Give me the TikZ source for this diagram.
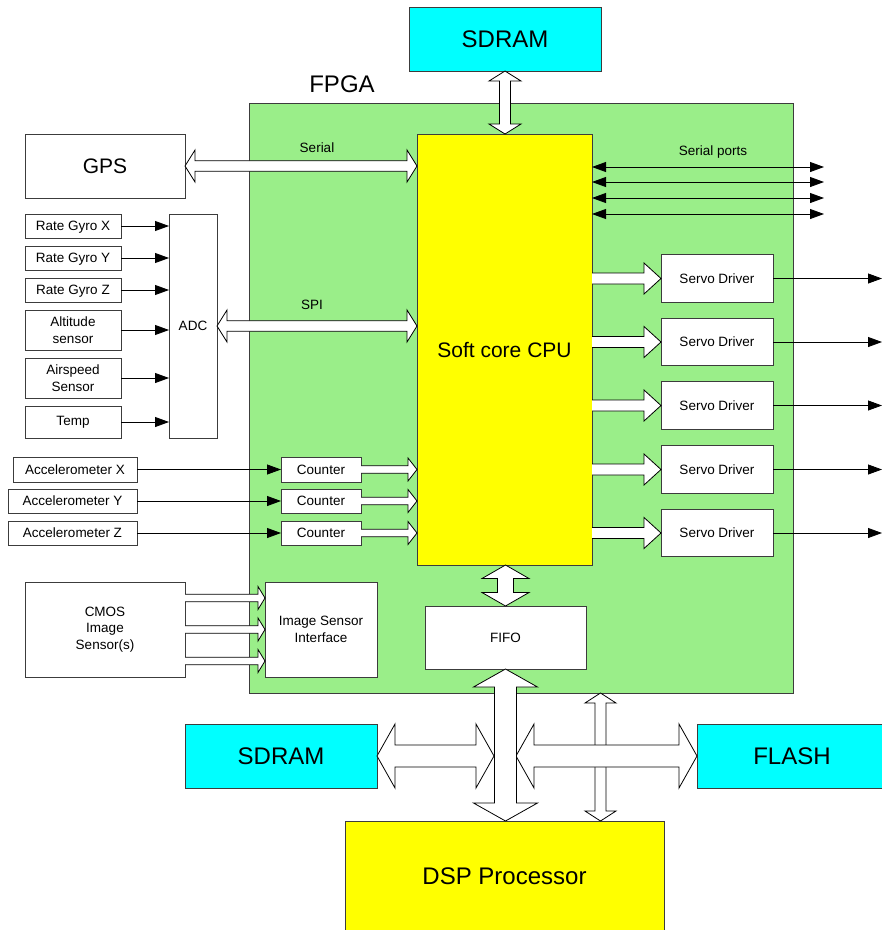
\documentclass[tikz,border=0pt]{standalone}
\usepackage{fontspec}
\setmainfont{Liberation Sans}
\usetikzlibrary{arrows.meta,calc}

\definecolor{fpgagreen}{RGB}{154,238,137}
\definecolor{memcyan}{RGB}{0,255,255}
\definecolor{procyellow}{RGB}{255,255,0}
\definecolor{edgegray}{RGB}{60,60,60}

\newcommand\smalltxt{\fontsize{13.5}{16.7}\selectfont}
\newcommand\midtxt{\fontsize{21}{25}\selectfont}
\newcommand\bigtxt{\fontsize{24}{29}\selectfont}

% hollow double-headed bus, horizontal: #1 left end, #2 right end,
% #3 half shaft width, #4 half head width, #5 head length
\newcommand\busH[5]{%
  \filldraw[bus] let \p1=(#1), \p2=(#2) in
    (\x1,\y1) -- (\x1+#5pt,\y1+#4pt) -- (\x1+#5pt,\y1+#3pt) -- (\x2-#5pt,\y1+#3pt)
    -- (\x2-#5pt,\y1+#4pt) -- (\x2,\y1) -- (\x2-#5pt,\y1-#4pt) -- (\x2-#5pt,\y1-#3pt)
    -- (\x1+#5pt,\y1-#3pt) -- (\x1+#5pt,\y1-#4pt) -- cycle;}
% hollow double-headed bus, vertical: #1 upper end, #2 lower end
\newcommand\busV[5]{%
  \filldraw[bus] let \p1=(#1), \p2=(#2) in
    (\x1,\y1) -- (\x1+#4pt,\y1-#5pt) -- (\x1+#3pt,\y1-#5pt) -- (\x1+#3pt,\y2+#5pt)
    -- (\x1+#4pt,\y2+#5pt) -- (\x1,\y2) -- (\x1-#4pt,\y2+#5pt) -- (\x1-#3pt,\y2+#5pt)
    -- (\x1-#3pt,\y1-#5pt) -- (\x1-#4pt,\y1-#5pt) -- cycle;}
% hollow single-headed feed pointing right: #1 tail, #2 tip
\newcommand\feedH[5]{%
  \filldraw[bus] let \p1=(#1), \p2=(#2) in
    (\x1,\y1+#3pt) -- (\x2-#5pt,\y1+#3pt) -- (\x2-#5pt,\y1+#4pt) -- (\x2,\y1)
    -- (\x2-#5pt,\y1-#4pt) -- (\x2-#5pt,\y1-#3pt) -- (\x1,\y1-#3pt);}

\tikzset{
  blk/.style={draw=edgegray, line width=1pt, fill=white, inner sep=0pt,
    outer sep=0pt, align=center, font=\smalltxt},
  mem/.style={blk, fill=memcyan, font=\bigtxt},
  proc/.style={blk, fill=procyellow},
  lbl/.style={inner sep=0pt, font=\smalltxt},
  bus/.style={draw=black, fill=white, line width=0.8pt, line join=miter},
  tip/.style={},
  sig/.style={draw=black, line width=0.8pt, -{Triangle[length=14pt,width=10pt]}},
  bisig/.style={draw=black, line width=0.8pt,
    {Triangle[length=14pt,width=10pt]}-{Triangle[length=14pt,width=10pt]}},
}

\begin{document}
\begin{tikzpicture}[x=1pt, y=-1pt]
\useasboundingbox (0,0) rectangle (882,930);
\clip (0,0) rectangle (882,930);

% FPGA fabric
\node[blk, fill=fpgagreen, minimum width=544pt, minimum height=590pt] (fpga) at (521,398) {};
\node[inner sep=0pt, font=\bigtxt] (fpgalbl) at (342,84) {FPGA};

% memories and processors
\node[mem, minimum width=192pt, minimum height=64pt] (sdramT) at (505,39) {SDRAM};
\node[proc, font=\midtxt, minimum width=175pt, minimum height=431pt] (cpu) at (504.5,349.5) {Soft core CPU};
\node[mem, minimum width=192pt, minimum height=64pt] (sdramB) at (281,756) {SDRAM};
\node[mem, minimum width=190pt, minimum height=64pt] (flash) at (792,756.5) {FLASH};
\node[proc, font=\bigtxt, minimum width=319pt, minimum height=110pt] (dsp) at (504.5,876) {DSP Processor};

% sensors
\node[blk, font=\midtxt, minimum width=160pt, minimum height=64pt] (gps) at (105,166) {GPS};
\node[blk, minimum width=48pt, minimum height=224pt] (adc) at (193,326) {ADC};
\node[blk, minimum width=96pt, minimum height=24pt, text depth=0pt] (rgx) at (73,226) {Rate Gyro X};
\node[blk, minimum width=96pt, minimum height=24pt, text depth=0pt] (rgy) at (73,258) {Rate Gyro Y};
\node[blk, minimum width=96pt, minimum height=24pt, text depth=0pt] (rgz) at (73,290) {Rate Gyro Z};
\node[blk, minimum width=96pt, minimum height=40pt] (alt) at (73,330) {Altitude\\sensor};
\node[blk, minimum width=96pt, minimum height=40pt] (air) at (73,378) {Airspeed\\Sensor};
\node[blk, minimum width=96pt, minimum height=32pt] (temp) at (73,422) {Temp};

\node[blk, minimum width=124pt, minimum height=25pt] (accx) at (75,469.5) {Accelerometer X};
\node[blk, minimum width=129pt, minimum height=24pt] (accy) at (72.5,501) {Accelerometer Y};
\node[blk, minimum width=129pt, minimum height=24pt] (accz) at (72.5,533) {Accelerometer Z};
\node[blk, minimum width=80pt, minimum height=25pt] (cnt1) at (321,469.5) {Counter};
\node[blk, minimum width=80pt, minimum height=24pt] (cnt2) at (321,501) {Counter};
\node[blk, minimum width=80pt, minimum height=24pt] (cnt3) at (321,533) {Counter};

\node[blk, minimum width=160pt, minimum height=95pt] (cmos) at (105,629.5) {CMOS\\Image\\Sensor(s)};
\node[blk, minimum width=112pt, minimum height=95pt] (isi) at (321,629.5) {Image Sensor\\Interface};
\node[blk, minimum width=161pt, minimum height=63pt] (fifo) at (505.5,637.5) {FIFO};

% servo drivers
\foreach \i/\y in {1/278.5, 2/342, 3/405.5, 4/469.5, 5/533}
  \node[blk, minimum width=112pt, minimum height=47.5pt] (sv\i) at (717,\y) {Servo Driver};

% labels on links
\node[lbl] (serlbl) at (317,148) {Serial};
\node[lbl] (spilbl) at (312,305) {SPI};
\node[lbl] (splbl) at (713,152) {Serial ports};

% analogue sensors into the ADC
\foreach \s in {rgx,rgy,rgz,alt,air,temp}
  \draw[sig] (\s.east) -- (\s.east -| adc.west);

% accelerometers into the counters, counters into the CPU
\foreach \i/\a in {1/accx,2/accy,3/accz} {
  \draw[sig] (\a.east) -- (cnt\i.west);
  \feedH{cnt\i.east}{cnt\i.east -| cpu.west}{3.8}{11.5}{9}
}

% buses around the CPU
\busV{sdramT.south}{sdramT.south |- cpu.north}{5.5}{16}{10}
\busH{gps.east}{gps.east -| cpu.west}{5.3}{16}{10}
\busH{adc.east}{adc.east -| cpu.west}{5.3}{16}{10}
\busV{cpu.south -| fifo.north}{fifo.north}{8}{23.5}{13.5}

% serial ports
\foreach \i/\y in {1/167, 2/182, 3/198, 4/214} {
  \coordinate (sp\i) at (824,\y);
  \draw[bisig] (cpu.east |- sp\i) -- (sp\i);
}

% servo feeds and outputs
\foreach \i/\y in {1/278.5, 2/342, 3/405.5, 4/469.5, 5/533} {
  \feedH{cpu.east |- sv\i.west}{sv\i.west}{5.5}{15.5}{17}
  \coordinate (so\i) at (882,\y);
  \draw[sig] (sv\i.east) -- (so\i);
}

% image sensor lanes
\foreach \d in {-31.5, 0, 31.5} {
  \feedH{$(cmos.east)+(0,\d)$}{$(isi.west)+(0,\d)$}{3.8}{11.5}{7}
}

% external buses to the DSP
\coordinate (tapx) at (600.5,0);
\busV{fpga.south -| tapx}{dsp.north -| tapx}{5.5}{15.5}{10}
\coordinate (busL) at (494,756);
\coordinate (busR) at (516,756);
\busH{sdramB.east}{busL}{11}{32}{18}
\busH{busR}{busR -| flash.west}{11}{32}{18}
\busV{fifo.south}{fifo.south |- dsp.north}{11}{32}{18}
\end{tikzpicture}
\end{document}
